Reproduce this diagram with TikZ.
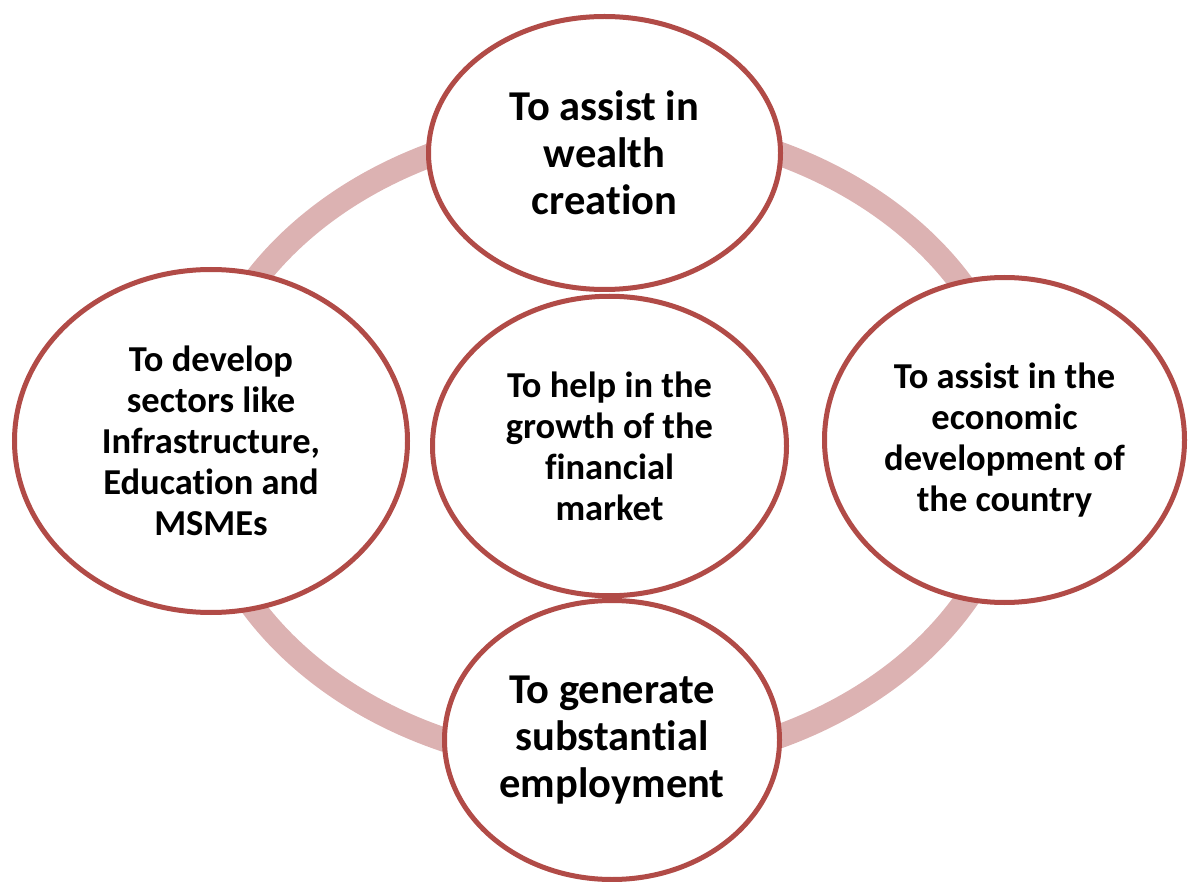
\documentclass[tikz,border=0pt]{standalone}
\usepackage{fontspec}
\setmainfont{Carlito}[Ligatures=NoCommon]
\usetikzlibrary{shapes.geometric}
\definecolor{inkedge}{HTML}{B14B47}
\definecolor{inkring}{HTML}{DCB2B2}
\newcommand{\aimbubble}[6]{%
  \node[draw=inkedge, line width=5pt, fill=white, ellipse, inner sep=0pt,
        minimum width=#3, minimum height=#4, align=center, #5] (#1) at (#2) {#6};}

\begin{document}
\begin{tikzpicture}[x=1pt, y=-1pt,
    bigtext/.style={font=\fontsize{42.5}{47}\selectfont\bfseries},
    smalltext/.style={font=\fontsize{36.5}{41}\selectfont\bfseries}]
      \useasboundingbox (0,0) rectangle (1189,882);
      % ring behind the bubbles
      \coordinate (hub) at (607,445);
      \draw[inkring, line width=24pt] (hub) ellipse [x radius=410, y radius=321];
      \aimbubble{wealth}{604.5,153}{352pt}{273pt}{bigtext}{To assist in\\ wealth\\ creation}
      \aimbubble{sectors}{211,441}{393pt}{343pt}{smalltext}{To develop\\ sectors like\\ Infrastructure,\\ Education and\\ MSMEs}
      \aimbubble{economy}{1004.5,440}{360pt}{325pt}{smalltext}{To assist in the\\ economic\\ development of\\ the country}
      \aimbubble{jobs}{612,740}{335pt}{279pt}{bigtext}{To generate\\ substantial\\ employment}
      \aimbubble{market}{609.5,446}{354pt}{299.5pt}{smalltext}{To help in the\\ growth of the\\ financial\\ market}
    \end{tikzpicture}
\end{document}
